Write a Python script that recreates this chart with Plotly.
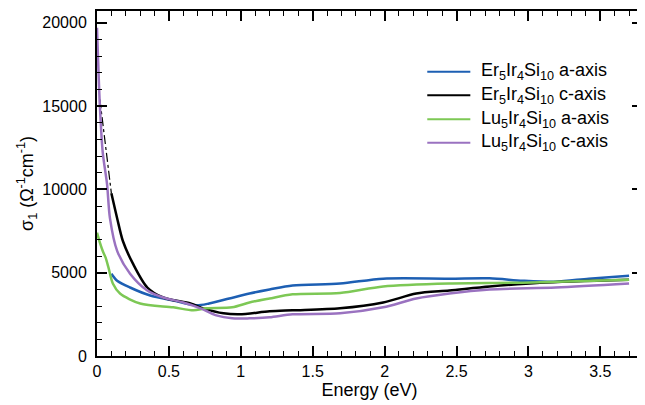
import plotly.graph_objects as go

# Er5Ir4Si10 a-axis (blue)
er_a_x = [0.10, 0.14, 0.23, 0.37, 0.53, 0.69, 0.78, 0.92, 1.06, 1.20, 1.36, 1.69, 1.99, 2.45, 2.73, 2.96, 3.19, 3.42, 3.70]
er_a_y = [4940, 4520, 4110, 3630, 3330, 3040, 3150, 3450, 3750, 3990, 4230, 4350, 4640, 4640, 4660, 4520, 4460, 4640, 4820]

# Er5Ir4Si10 c-axis (black), solid part
er_c_x = [0.10, 0.14, 0.18, 0.25, 0.35, 0.46, 0.65, 0.74, 0.88, 0.99, 1.20, 1.36, 1.69, 1.99, 2.22, 2.45, 2.73, 3.08, 3.70]
er_c_y = [9760, 8270, 6900, 5540, 4110, 3510, 3150, 2860, 2560, 2500, 2680, 2740, 2860, 3210, 3750, 3930, 4170, 4400, 4580]
# Er5Ir4Si10 c-axis extrapolation (dash-dot)
er_c_ext_x = [0.02, 0.10]
er_c_ext_y = [15400, 9760]

# Lu5Ir4Si10 a-axis (green)
lu_a_x = [0.00, 0.01, 0.02, 0.04, 0.06, 0.08, 0.11, 0.16, 0.30, 0.53, 0.67, 0.76, 0.94, 1.06, 1.20, 1.36, 1.69, 1.99, 2.45, 2.96, 3.70]
lu_a_y = [7400, 7100, 6800, 6300, 5900, 5300, 4350, 3750, 3150, 2920, 2740, 2860, 2920, 3210, 3450, 3700, 3780, 4170, 4350, 4400, 4580]

# Lu5Ir4Si10 c-axis (purple)
lu_c_x = [0.00, 0.02, 0.04, 0.07, 0.09, 0.14, 0.23, 0.35, 0.46, 0.60, 0.72, 0.83, 0.94, 1.06, 1.20, 1.36, 1.69, 1.99, 2.22, 2.45, 2.73, 3.19, 3.70]
lu_c_y = [19700, 15000, 12200, 10300, 8270, 6310, 4940, 3930, 3510, 3210, 2860, 2440, 2260, 2260, 2320, 2500, 2560, 2920, 3450, 3750, 3990, 4110, 4350]

names = [
    "Er<sub>5</sub>Ir<sub>4</sub>Si<sub>10</sub> a-axis",
    "Er<sub>5</sub>Ir<sub>4</sub>Si<sub>10</sub> c-axis",
    "Lu<sub>5</sub>Ir<sub>4</sub>Si<sub>10</sub> a-axis",
    "Lu<sub>5</sub>Ir<sub>4</sub>Si<sub>10</sub> c-axis",
]
colors = ["#1d5fb3", "#000000", "#7dc855", "#9a72c0"]
LW = 2.5

fig = go.Figure()
fig.add_trace(go.Scatter(x=er_a_x, y=er_a_y, mode="lines", name=names[0],
                         line=dict(color=colors[0], width=LW, shape="spline", smoothing=0.8)))
fig.add_trace(go.Scatter(x=er_c_x, y=er_c_y, mode="lines", name=names[1],
                         line=dict(color=colors[1], width=LW, shape="spline", smoothing=0.8)))
fig.add_trace(go.Scatter(x=er_c_ext_x, y=er_c_ext_y, mode="lines", name=names[1],
                         line=dict(color=colors[1], width=1.2, dash="dashdot")))
fig.add_trace(go.Scatter(x=lu_a_x, y=lu_a_y, mode="lines", name=names[2],
                         line=dict(color=colors[2], width=LW, shape="spline", smoothing=0.8)))
fig.add_trace(go.Scatter(x=lu_c_x, y=lu_c_y, mode="lines", name=names[3],
                         line=dict(color=colors[3], width=LW, shape="spline", smoothing=0.8)))

# Legend drawn as text annotations with short line samples (paper coordinates)
leg_x0, leg_x1, leg_tx = 0.606, 0.685, 0.701
leg_rows = [0.824, 0.756, 0.686, 0.618]
shapes, annotations = [], []
for name, col, yy in zip(names, colors, leg_rows):
    shapes.append(dict(type="line", xref="paper", yref="paper", x0=leg_x0, x1=leg_x1, y0=yy, y1=yy,
                       line=dict(color=col, width=2)))
    annotations.append(dict(xref="paper", yref="paper", x=leg_tx, y=yy, xanchor="left", yanchor="middle",
                            text=name, showarrow=False, font=dict(size=18)))

font_family = "Liberation Sans, Arial, sans-serif"
fig.update_layout(
    width=637, height=397,
    margin=dict(l=89, r=2, t=1, b=49),
    paper_bgcolor="white", plot_bgcolor="white",
    font=dict(family=font_family, size=16, color="black"),
    showlegend=False,
    shapes=shapes, annotations=annotations,
)
fig.update_xaxes(
    range=[0, 3.79], tickmode="linear", tick0=0, dtick=0.5,
    ticks="inside", ticklen=10, tickwidth=2, tickcolor="black",
    minor=dict(dtick=0.1, ticks="inside", ticklen=5, tickwidth=1.2, tickcolor="black"),
    showline=True, linecolor="black", linewidth=2, mirror="allticks",
    showgrid=False, zeroline=False,
    title=dict(text="Energy (eV)", font=dict(size=18), standoff=2),
)
fig.update_yaxes(
    range=[0, 20700], tickmode="linear", tick0=0, dtick=5000, tickformat="d",
    ticks="inside", ticklen=10, tickwidth=2, tickcolor="black",
    minor=dict(dtick=1000, ticks="inside", ticklen=5, tickwidth=1.2, tickcolor="black"),
    showline=True, linecolor="black", linewidth=2, mirror="allticks",
    showgrid=False, zeroline=False,
    title=dict(text="σ<sub>1</sub> (Ω<sup>-1</sup>cm<sup>-1</sup>)", font=dict(size=18), standoff=4),
    ticklabelstandoff=5,
)
fig.write_html("out.html")
